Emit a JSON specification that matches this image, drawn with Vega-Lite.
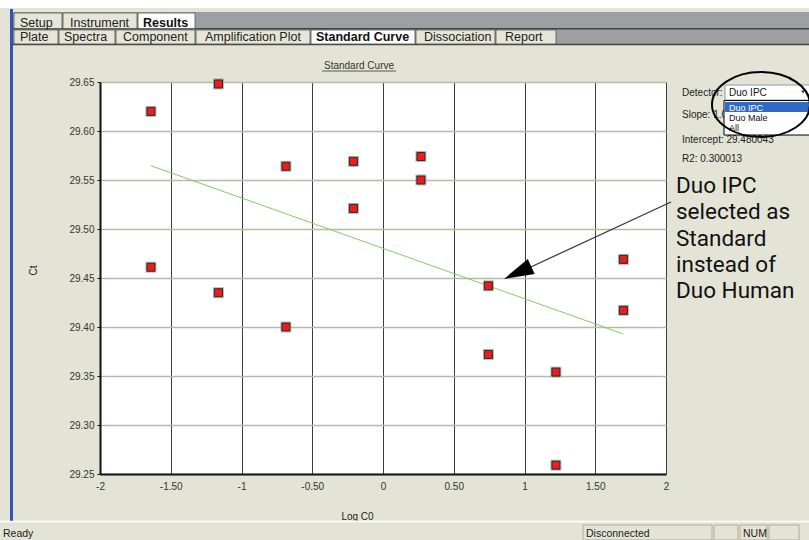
{
  "$schema": "https://vega.github.io/schema/vega-lite/v6.json",
  "width": 566,
  "height": 392,
  "autosize": {"type": "none"},
  "padding": {"left": 100, "top": 82, "right": 143, "bottom": 66},
  "background": "#e4e4d6",
  "config": {"view": {"fill": "white", "stroke": null}, "font": "Liberation Sans"},
  "datasets": {
    "pts": [
      {"logC0": -1.640, "ct": 29.620},
      {"logC0": -1.640, "ct": 29.461},
      {"logC0": -1.163, "ct": 29.648},
      {"logC0": -1.163, "ct": 29.435},
      {"logC0": -0.686, "ct": 29.564},
      {"logC0": -0.686, "ct": 29.400},
      {"logC0": -0.209, "ct": 29.569},
      {"logC0": -0.209, "ct": 29.521},
      {"logC0": 0.268, "ct": 29.574},
      {"logC0": 0.268, "ct": 29.550},
      {"logC0": 0.745, "ct": 29.442},
      {"logC0": 0.745, "ct": 29.372},
      {"logC0": 1.222, "ct": 29.354},
      {"logC0": 1.222, "ct": 29.259},
      {"logC0": 1.699, "ct": 29.469},
      {"logC0": 1.699, "ct": 29.417}
    ],
    "fit": [
      {"logC0": -1.640, "ct": 29.5646},
      {"logC0": 1.699, "ct": 29.3929}
    ]
  },
  "data": {"values": [{}]},
  "layer": [
    {
      "data": {"name": "fit"},
      "mark": {"type": "line", "color": "#7fcf5c", "strokeWidth": 1},
      "encoding": {
        "x": {"field": "logC0", "type": "quantitative", "scale": {"domain": [-2, 2], "nice": false, "zero": false},
          "axis": {"title": "Log C0", "values": [-2, -1.5, -1, -0.5, 0, 0.5, 1, 1.5, 2],
            "labelExpr": "datum.value % 1 === 0 ? '' + datum.value : replace(format(datum.value, '.2f'), '\u2212', '-')",
            "grid": true, "gridColor": "#3c3c3c", "gridWidth": 1, "gridOpacity": 1,
            "domainColor": "#111111", "domainWidth": 2, "ticks": false, "tickSize": 0, "labelPadding": 7,
            "labelFont": "Liberation Sans", "labelFontSize": 10, "labelColor": "#333333", "labelFlush": false, "labelOverlap": false,
            "titleFont": "Liberation Sans", "titleFontSize": 10, "titleFontWeight": "normal", "titleColor": "#222222",
            "titleX": 257, "titleY": 45, "titleBaseline": "alphabetic", "titleAlign": "center"}},
        "y": {"field": "ct", "type": "quantitative", "scale": {"domain": [29.25, 29.65], "nice": false, "zero": false},
          "axis": {"title": "Ct", "values": [29.25, 29.3, 29.35, 29.4, 29.45, 29.5, 29.55, 29.6, 29.65], "format": ".2f",
            "grid": true, "gridColor": "#bcb8a4", "gridWidth": 1.5, "gridOpacity": 1,
            "domainColor": "#111111", "domainWidth": 2, "ticks": true, "tickSize": 3, "tickColor": "#111111", "labelPadding": 3,
            "labelFont": "Liberation Sans", "labelFontSize": 10, "labelColor": "#333333", "labelFlush": false, "labelOverlap": false,
            "titleFont": "Liberation Sans", "titleFontSize": 10, "titleFontWeight": "normal", "titleColor": "#222222",
            "titleX": -67, "titleY": 188, "titleAngle": -90, "titleBaseline": "middle", "titleAlign": "center"}}
      }
    },
    {
      "data": {"name": "pts"},
      "mark": {"type": "point", "shape": "square", "filled": true, "size": 121, "color": "#9a9a9a", "opacity": 0.7},
      "encoding": {"x": {"field": "logC0", "type": "quantitative"}, "y": {"field": "ct", "type": "quantitative"}}
    },
    {
      "data": {"name": "pts"},
      "mark": {"type": "point", "shape": "square", "filled": true, "size": 64, "fill": "#ea1c1c", "stroke": "#2a2a2a", "strokeWidth": 1, "opacity": 1},
      "encoding": {"x": {"field": "logC0", "type": "quantitative"}, "y": {"field": "ct", "type": "quantitative"}}
    },
    {
      "mark": {"type": "rect", "fill": "#ffffff"},
      "encoding": {"x": {"datum": -2.7067, "type": "quantitative"}, "x2": {"datum": 3.0106}, "y": {"datum": 29.7337, "type": "quantitative"}, "y2": {"datum": 29.7255}}
    },
    {
      "mark": {"type": "rect", "fill": "#9d9fa3"},
      "encoding": {"x": {"datum": -2.6148, "type": "quantitative"}, "x2": {"datum": 3.0106}, "y": {"datum": 29.7214, "type": "quantitative"}, "y2": {"datum": 29.6883}}
    },
    {
      "mark": {"type": "rule", "color": "#444444", "strokeWidth": 1.5},
      "encoding": {"x": {"datum": -2.6148, "type": "quantitative"}, "x2": {"datum": 3.0106}, "y": {"datum": 29.7043, "type": "quantitative"}}
    },
    {
      "mark": {"type": "rule", "color": "#444444", "strokeWidth": 1.5},
      "encoding": {"x": {"datum": -2.6148, "type": "quantitative"}, "x2": {"datum": 3.0106}, "y": {"datum": 29.6883, "type": "quantitative"}}
    },
    {
      "mark": {"type": "rect", "fill": "#e6e6d8", "stroke": "#555555", "strokeWidth": 0.8},
      "encoding": {"x": {"datum": -2.6078, "type": "quantitative"}, "x2": {"datum": -2.2686}, "y": {"datum": 29.7204, "type": "quantitative"}, "y2": {"datum": 29.7046}}
    },
    {
      "mark": {"type": "rect", "fill": "#e6e6d8", "stroke": "#555555", "strokeWidth": 0.8},
      "encoding": {"x": {"datum": -2.2615, "type": "quantitative"}, "x2": {"datum": -1.7385}, "y": {"datum": 29.7204, "type": "quantitative"}, "y2": {"datum": 29.7046}}
    },
    {
      "mark": {"type": "rect", "fill": "#ffffff", "stroke": "#555555", "strokeWidth": 0.8},
      "encoding": {"x": {"datum": -1.7314, "type": "quantitative"}, "x2": {"datum": -1.3286}, "y": {"datum": 29.7204, "type": "quantitative"}, "y2": {"datum": 29.7046}}
    },
    {
      "mark": {"type": "rect", "fill": "#e6e6d8", "stroke": "#555555", "strokeWidth": 0.8},
      "encoding": {"x": {"datum": -2.6078, "type": "quantitative"}, "x2": {"datum": -2.2968}, "y": {"datum": 29.7031, "type": "quantitative"}, "y2": {"datum": 29.6888}}
    },
    {
      "mark": {"type": "rect", "fill": "#e6e6d8", "stroke": "#555555", "strokeWidth": 0.8},
      "encoding": {"x": {"datum": -2.2898, "type": "quantitative"}, "x2": {"datum": -1.8940}, "y": {"datum": 29.7031, "type": "quantitative"}, "y2": {"datum": 29.6888}}
    },
    {
      "mark": {"type": "rect", "fill": "#e6e6d8", "stroke": "#555555", "strokeWidth": 0.8},
      "encoding": {"x": {"datum": -1.8869, "type": "quantitative"}, "x2": {"datum": -1.3286}, "y": {"datum": 29.7031, "type": "quantitative"}, "y2": {"datum": 29.6888}}
    },
    {
      "mark": {"type": "rect", "fill": "#e6e6d8", "stroke": "#555555", "strokeWidth": 0.8},
      "encoding": {"x": {"datum": -1.3216, "type": "quantitative"}, "x2": {"datum": -0.5159}, "y": {"datum": 29.7031, "type": "quantitative"}, "y2": {"datum": 29.6888}}
    },
    {
      "mark": {"type": "rect", "fill": "#ffffff", "stroke": "#555555", "strokeWidth": 0.8},
      "encoding": {"x": {"datum": -0.5088, "type": "quantitative"}, "x2": {"datum": 0.2261}, "y": {"datum": 29.7031, "type": "quantitative"}, "y2": {"datum": 29.6888}}
    },
    {
      "mark": {"type": "rect", "fill": "#e6e6d8", "stroke": "#555555", "strokeWidth": 0.8},
      "encoding": {"x": {"datum": 0.2332, "type": "quantitative"}, "x2": {"datum": 0.7915}, "y": {"datum": 29.7031, "type": "quantitative"}, "y2": {"datum": 29.6888}}
    },
    {
      "mark": {"type": "rect", "fill": "#e6e6d8", "stroke": "#555555", "strokeWidth": 0.8},
      "encoding": {"x": {"datum": 0.7986, "type": "quantitative"}, "x2": {"datum": 1.2226}, "y": {"datum": 29.7031, "type": "quantitative"}, "y2": {"datum": 29.6888}}
    },
    {
      "mark": {"type": "text", "text": "Setup", "align": "left", "baseline": "alphabetic", "font": "Liberation Sans", "fontSize": 12.5, "color": "#222222"},
      "encoding": {"x": {"datum": -2.5654, "type": "quantitative"}, "y": {"datum": 29.7066, "type": "quantitative"}}
    },
    {
      "mark": {"type": "text", "text": "Instrument", "align": "left", "baseline": "alphabetic", "font": "Liberation Sans", "fontSize": 12.5, "color": "#222222"},
      "encoding": {"x": {"datum": -2.2120, "type": "quantitative"}, "y": {"datum": 29.7066, "type": "quantitative"}}
    },
    {
      "mark": {"type": "text", "text": "Results", "align": "left", "baseline": "alphabetic", "font": "Liberation Sans", "fontSize": 12.5, "fontWeight": "bold", "color": "#111111"},
      "encoding": {"x": {"datum": -1.6961, "type": "quantitative"}, "y": {"datum": 29.7066, "type": "quantitative"}}
    },
    {
      "mark": {"type": "text", "text": "Plate", "align": "left", "baseline": "alphabetic", "font": "Liberation Sans", "fontSize": 12.5, "color": "#222222"},
      "encoding": {"x": {"datum": -2.5654, "type": "quantitative"}, "y": {"datum": 29.6918, "type": "quantitative"}}
    },
    {
      "mark": {"type": "text", "text": "Spectra", "align": "left", "baseline": "alphabetic", "font": "Liberation Sans", "fontSize": 12.5, "color": "#222222"},
      "encoding": {"x": {"datum": -2.2544, "type": "quantitative"}, "y": {"datum": 29.6918, "type": "quantitative"}}
    },
    {
      "mark": {"type": "text", "text": "Component", "align": "left", "baseline": "alphabetic", "font": "Liberation Sans", "fontSize": 12.5, "color": "#222222"},
      "encoding": {"x": {"datum": -1.8375, "type": "quantitative"}, "y": {"datum": 29.6918, "type": "quantitative"}}
    },
    {
      "mark": {"type": "text", "text": "Amplification Plot", "align": "left", "baseline": "alphabetic", "font": "Liberation Sans", "fontSize": 12.5, "color": "#222222"},
      "encoding": {"x": {"datum": -1.2580, "type": "quantitative"}, "y": {"datum": 29.6918, "type": "quantitative"}}
    },
    {
      "mark": {"type": "text", "text": "Standard Curve", "align": "left", "baseline": "alphabetic", "font": "Liberation Sans", "fontSize": 12.5, "fontWeight": "bold", "color": "#111111"},
      "encoding": {"x": {"datum": -0.4735, "type": "quantitative"}, "y": {"datum": 29.6918, "type": "quantitative"}}
    },
    {
      "mark": {"type": "text", "text": "Dissociation", "align": "left", "baseline": "alphabetic", "font": "Liberation Sans", "fontSize": 12.5, "color": "#222222"},
      "encoding": {"x": {"datum": 0.2898, "type": "quantitative"}, "y": {"datum": 29.6918, "type": "quantitative"}}
    },
    {
      "mark": {"type": "text", "text": "Report", "align": "left", "baseline": "alphabetic", "font": "Liberation Sans", "fontSize": 12.5, "color": "#222222"},
      "encoding": {"x": {"datum": 0.8622, "type": "quantitative"}, "y": {"datum": 29.6918, "type": "quantitative"}}
    },
    {
      "mark": {"type": "rect", "fill": "#3552b8"},
      "encoding": {"x": {"datum": -2.6360, "type": "quantitative"}, "x2": {"datum": -2.6148}, "y": {"datum": 29.7245, "type": "quantitative"}, "y2": {"datum": 29.2020}}
    },
    {
      "mark": {"type": "text", "text": "Standard Curve", "align": "center", "baseline": "alphabetic", "font": "Liberation Sans", "fontSize": 10, "color": "#333333"},
      "encoding": {"x": {"datum": -0.1696, "type": "quantitative"}, "y": {"datum": 29.6633, "type": "quantitative"}}
    },
    {
      "mark": {"type": "rule", "color": "#333333", "strokeWidth": 0.8},
      "encoding": {"x": {"datum": -0.4311, "type": "quantitative"}, "x2": {"datum": 0.0919}, "y": {"datum": 29.6612, "type": "quantitative"}}
    },
    {
      "mark": {"type": "text", "text": ["Duo IPC", "selected as", "Standard", "instead of", "Duo Human"], "align": "left", "baseline": "alphabetic", "font": "Roboto", "fontSize": 22.5, "lineHeight": 26.4, "color": "#111111"},
      "encoding": {"x": {"datum": 2.0707, "type": "quantitative"}, "y": {"datum": 29.5370, "type": "quantitative"}}
    },
    {
      "mark": {"type": "rule", "color": "#333333", "strokeWidth": 1.2},
      "encoding": {"x": {"datum": 2.0353, "type": "quantitative"}, "y": {"datum": 29.5276, "type": "quantitative"}, "x2": {"datum": 0.9682}, "y2": {"datum": 29.4561}}
    },
    {
      "mark": {"type": "point", "shape": "M0,0L0.55,2L-0.55,2Z", "filled": true, "color": "#000000", "opacity": 1, "size": 900, "angle": 245.2},
      "encoding": {"x": {"datum": 0.8551, "type": "quantitative"}, "y": {"datum": 29.4490, "type": "quantitative"}}
    },
    {
      "mark": {"type": "text", "text": "Detector:", "align": "left", "baseline": "alphabetic", "font": "Liberation Sans", "fontSize": 10, "color": "#222222"},
      "encoding": {"x": {"datum": 2.1131, "type": "quantitative"}, "y": {"datum": 29.6357, "type": "quantitative"}}
    },
    {
      "mark": {"type": "text", "text": "Slope:  1.0", "align": "left", "baseline": "alphabetic", "font": "Liberation Sans", "fontSize": 10, "color": "#222222"},
      "encoding": {"x": {"datum": 2.1131, "type": "quantitative"}, "y": {"datum": 29.6133, "type": "quantitative"}}
    },
    {
      "mark": {"type": "text", "text": "Intercept:  29.480043", "align": "left", "baseline": "alphabetic", "font": "Liberation Sans", "fontSize": 10, "color": "#222222"},
      "encoding": {"x": {"datum": 2.1131, "type": "quantitative"}, "y": {"datum": 29.5878, "type": "quantitative"}}
    },
    {
      "mark": {"type": "text", "text": "R2:  0.300013", "align": "left", "baseline": "alphabetic", "font": "Liberation Sans", "fontSize": 10, "color": "#222222"},
      "encoding": {"x": {"datum": 2.1131, "type": "quantitative"}, "y": {"datum": 29.5684, "type": "quantitative"}}
    },
    {
      "mark": {"type": "rect", "fill": "#ffffff", "stroke": "#7f9db9", "strokeWidth": 1},
      "encoding": {"x": {"datum": 2.4170, "type": "quantitative"}, "x2": {"datum": 3.0318}, "y": {"datum": 29.6469, "type": "quantitative"}, "y2": {"datum": 29.6316}}
    },
    {
      "mark": {"type": "text", "text": "Duo IPC", "align": "left", "baseline": "alphabetic", "font": "Liberation Sans", "fontSize": 10, "color": "#111111"},
      "encoding": {"x": {"datum": 2.4452, "type": "quantitative"}, "y": {"datum": 29.6357, "type": "quantitative"}}
    },
    {
      "mark": {"type": "point", "shape": "triangle-down", "filled": true, "color": "#333333", "opacity": 1, "size": 14},
      "encoding": {"x": {"datum": 2.9682, "type": "quantitative"}, "y": {"datum": 29.6398, "type": "quantitative"}}
    },
    {
      "mark": {"type": "rect", "fill": "#ffffff", "stroke": "#000000", "strokeWidth": 1},
      "encoding": {"x": {"datum": 2.4099, "type": "quantitative"}, "x2": {"datum": 3.0318}, "y": {"datum": 29.6311, "type": "quantitative"}, "y2": {"datum": 29.5959}}
    },
    {
      "mark": {"type": "rect", "fill": "#316ac5"},
      "encoding": {"x": {"datum": 2.4170, "type": "quantitative"}, "x2": {"datum": 3.0318}, "y": {"datum": 29.6296, "type": "quantitative"}, "y2": {"datum": 29.6194}}
    },
    {
      "mark": {"type": "text", "text": "Duo IPC", "align": "left", "baseline": "alphabetic", "font": "Liberation Sans", "fontSize": 9, "color": "#ffffff"},
      "encoding": {"x": {"datum": 2.4452, "type": "quantitative"}, "y": {"datum": 29.6209, "type": "quantitative"}}
    },
    {
      "mark": {"type": "text", "text": "Duo Male", "align": "left", "baseline": "alphabetic", "font": "Liberation Sans", "fontSize": 9, "color": "#111111"},
      "encoding": {"x": {"datum": 2.4452, "type": "quantitative"}, "y": {"datum": 29.6102, "type": "quantitative"}}
    },
    {
      "mark": {"type": "text", "text": "All", "align": "left", "baseline": "alphabetic", "font": "Liberation Sans", "fontSize": 9, "color": "#111111"},
      "encoding": {"x": {"datum": 2.4452, "type": "quantitative"}, "y": {"datum": 29.5995, "type": "quantitative"}}
    },
    {
      "mark": {"type": "point", "shape": "M-1,0A1,0.663,0,1,1,1,0A1,0.663,0,1,1,-1,0Z", "filled": false, "stroke": "#000000", "strokeWidth": 2, "opacity": 1, "size": 9604},
      "encoding": {"x": {"datum": 2.6714, "type": "quantitative"}, "y": {"datum": 29.6270, "type": "quantitative"}}
    },
    {
      "mark": {"type": "rule", "color": "#ffffff", "strokeWidth": 1.5},
      "encoding": {"x": {"datum": -2.7067, "type": "quantitative"}, "x2": {"datum": 3.0106}, "y": {"datum": 29.2015, "type": "quantitative"}}
    },
    {
      "mark": {"type": "rect", "fill": null, "stroke": "#b0ae9a", "strokeWidth": 1},
      "encoding": {"x": {"datum": 1.4134, "type": "quantitative"}, "x2": {"datum": 2.3251}, "y": {"datum": 29.1980, "type": "quantitative"}, "y2": {"datum": 29.1827}}
    },
    {
      "mark": {"type": "rect", "fill": null, "stroke": "#b0ae9a", "strokeWidth": 1},
      "encoding": {"x": {"datum": 2.3392, "type": "quantitative"}, "x2": {"datum": 2.5088}, "y": {"datum": 29.1980, "type": "quantitative"}, "y2": {"datum": 29.1827}}
    },
    {
      "mark": {"type": "rect", "fill": null, "stroke": "#b0ae9a", "strokeWidth": 1},
      "encoding": {"x": {"datum": 2.5230, "type": "quantitative"}, "x2": {"datum": 2.7138}, "y": {"datum": 29.1980, "type": "quantitative"}, "y2": {"datum": 29.1827}}
    },
    {
      "mark": {"type": "rect", "fill": null, "stroke": "#b0ae9a", "strokeWidth": 1},
      "encoding": {"x": {"datum": 2.7279, "type": "quantitative"}, "x2": {"datum": 2.9399}, "y": {"datum": 29.1980, "type": "quantitative"}, "y2": {"datum": 29.1827}}
    },
    {
      "mark": {"type": "text", "text": "Ready", "align": "left", "baseline": "alphabetic", "font": "Liberation Sans", "fontSize": 10.5, "color": "#222222"},
      "encoding": {"x": {"datum": -2.6855, "type": "quantitative"}, "y": {"datum": 29.1862, "type": "quantitative"}}
    },
    {
      "mark": {"type": "text", "text": "Disconnected", "align": "left", "baseline": "alphabetic", "font": "Liberation Sans", "fontSize": 10.5, "color": "#222222"},
      "encoding": {"x": {"datum": 1.4346, "type": "quantitative"}, "y": {"datum": 29.1862, "type": "quantitative"}}
    },
    {
      "mark": {"type": "text", "text": "NUM", "align": "left", "baseline": "alphabetic", "font": "Liberation Sans", "fontSize": 10.5, "color": "#222222"},
      "encoding": {"x": {"datum": 2.5442, "type": "quantitative"}, "y": {"datum": 29.1862, "type": "quantitative"}}
    }
  ]
}
